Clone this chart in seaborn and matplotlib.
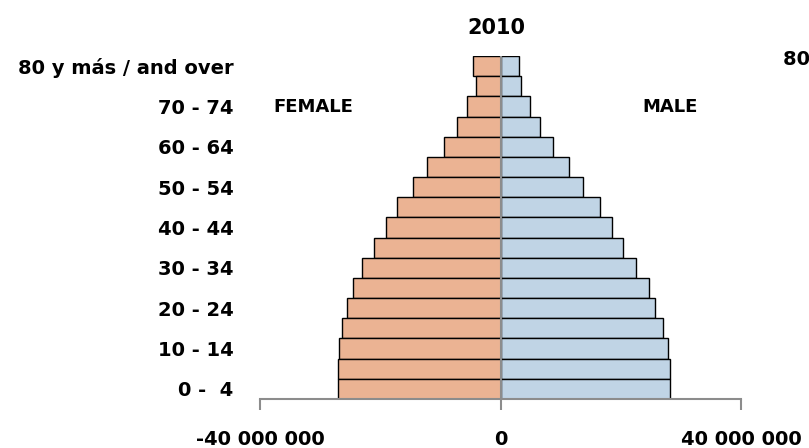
import matplotlib
matplotlib.use("Agg")
import matplotlib.pyplot as plt
import seaborn as sns
import pandas as pd

# Age groups, top to bottom
age_groups = ["80 y más / and over", "75 - 79", "70 - 74", "65 - 69", "60 - 64",
              "55 - 59", "50 - 54", "45 - 49", "40 - 44", "35 - 39", "30 - 34",
              "25 - 29", "20 - 24", "15 - 19", "10 - 14", "5 -  9", "0 -  4"]
# Population (people), same order as age_groups
female = [4.6e6, 4.1e6, 5.6e6, 7.3e6, 9.45e6, 12.3e6, 14.6e6, 17.25e6, 19.1e6,
          21.1e6, 23.1e6, 24.6e6, 25.6e6, 26.3e6, 26.8e6, 26.95e6, 26.95e6]
male = [3.05e6, 3.45e6, 4.95e6, 6.6e6, 8.8e6, 11.45e6, 13.8e6, 16.6e6, 18.55e6,
        20.4e6, 22.55e6, 24.7e6, 25.7e6, 27.05e6, 27.9e6, 28.2e6, 28.2e6]
shown_labels = ["80 y más / and over", "70 - 74", "60 - 64", "50 - 54", "40 - 44",
                "30 - 34", "20 - 24", "10 - 14", "0 -  4"]
x_ticks = [-40_000_000, 0, 40_000_000]
x_tick_labels = ["-40 000 000", "0", "40 000 000"]
title = "2010"

df = pd.DataFrame({"age": age_groups,
                   "female": [-v for v in female],
                   "male": male})

sns.set_style("white")
plt.rcParams["font.family"] = ["DejaVu Sans"]
plt.rcParams["font.weight"] = "bold"
plt.rcParams["text.color"] = "black"
plt.rcParams["xtick.labelcolor"] = "black"
plt.rcParams["ytick.labelcolor"] = "black"

fig = plt.figure(figsize=(8.09, 4.48), dpi=100)
ax = fig.add_axes([260 / 809, 1 - 399 / 448, (741 - 260) / 809, (399 - 56) / 448])

sns.barplot(data=df, x="female", y="age", order=age_groups, orient="h",
            color="#ebb393", saturation=1, width=1.0, edgecolor="black",
            linewidth=1.0, ax=ax)
sns.barplot(data=df, x="male", y="age", order=age_groups, orient="h",
            color="#c0d4e5", saturation=1, width=1.0, edgecolor="black",
            linewidth=1.0, ax=ax)

ax.axvline(0, color="#8c8c8c", lw=1.5, zorder=5)
ax.set_xlim(-40_000_000, 40_000_000)
ax.set_ylim(len(age_groups) - 0.5, -0.5)

ax.set_yticks([age_groups.index(l) for l in shown_labels])
ax.set_yticklabels(shown_labels, fontsize=14, fontweight="bold", color="black")
ax.tick_params(axis="y", length=0, pad=19)

ax.set_xticks(x_ticks)
ax.set_xticklabels(x_tick_labels, fontsize=14, fontweight="bold", color="black")
ax.tick_params(axis="x", length=8, width=1.5, color="#8c8c8c", pad=14,
               direction="out", bottom=True)

for s in ["top", "right", "left"]:
    ax.spines[s].set_visible(False)
ax.spines["bottom"].set_color("#8c8c8c")
ax.spines["bottom"].set_linewidth(1.5)
ax.set_xlabel("")
ax.set_ylabel("")

fig.text(496 / 809, 1 - 28 / 448, title, ha="center", va="center",
         fontsize=15, fontweight="bold", color="black")
fig.text(313 / 809, 1 - 107 / 448, "FEMALE", ha="center", va="center",
         fontsize=13, fontweight="bold", color="black")
fig.text(670 / 809, 1 - 107 / 448, "MALE", ha="center", va="center",
         fontsize=13, fontweight="bold", color="black")
fig.text(783 / 809, 1 - 59 / 448, "80 y más / and over", ha="left", va="center",
         fontsize=14, fontweight="bold", color="black")

fig.savefig("out.png", dpi=100)
